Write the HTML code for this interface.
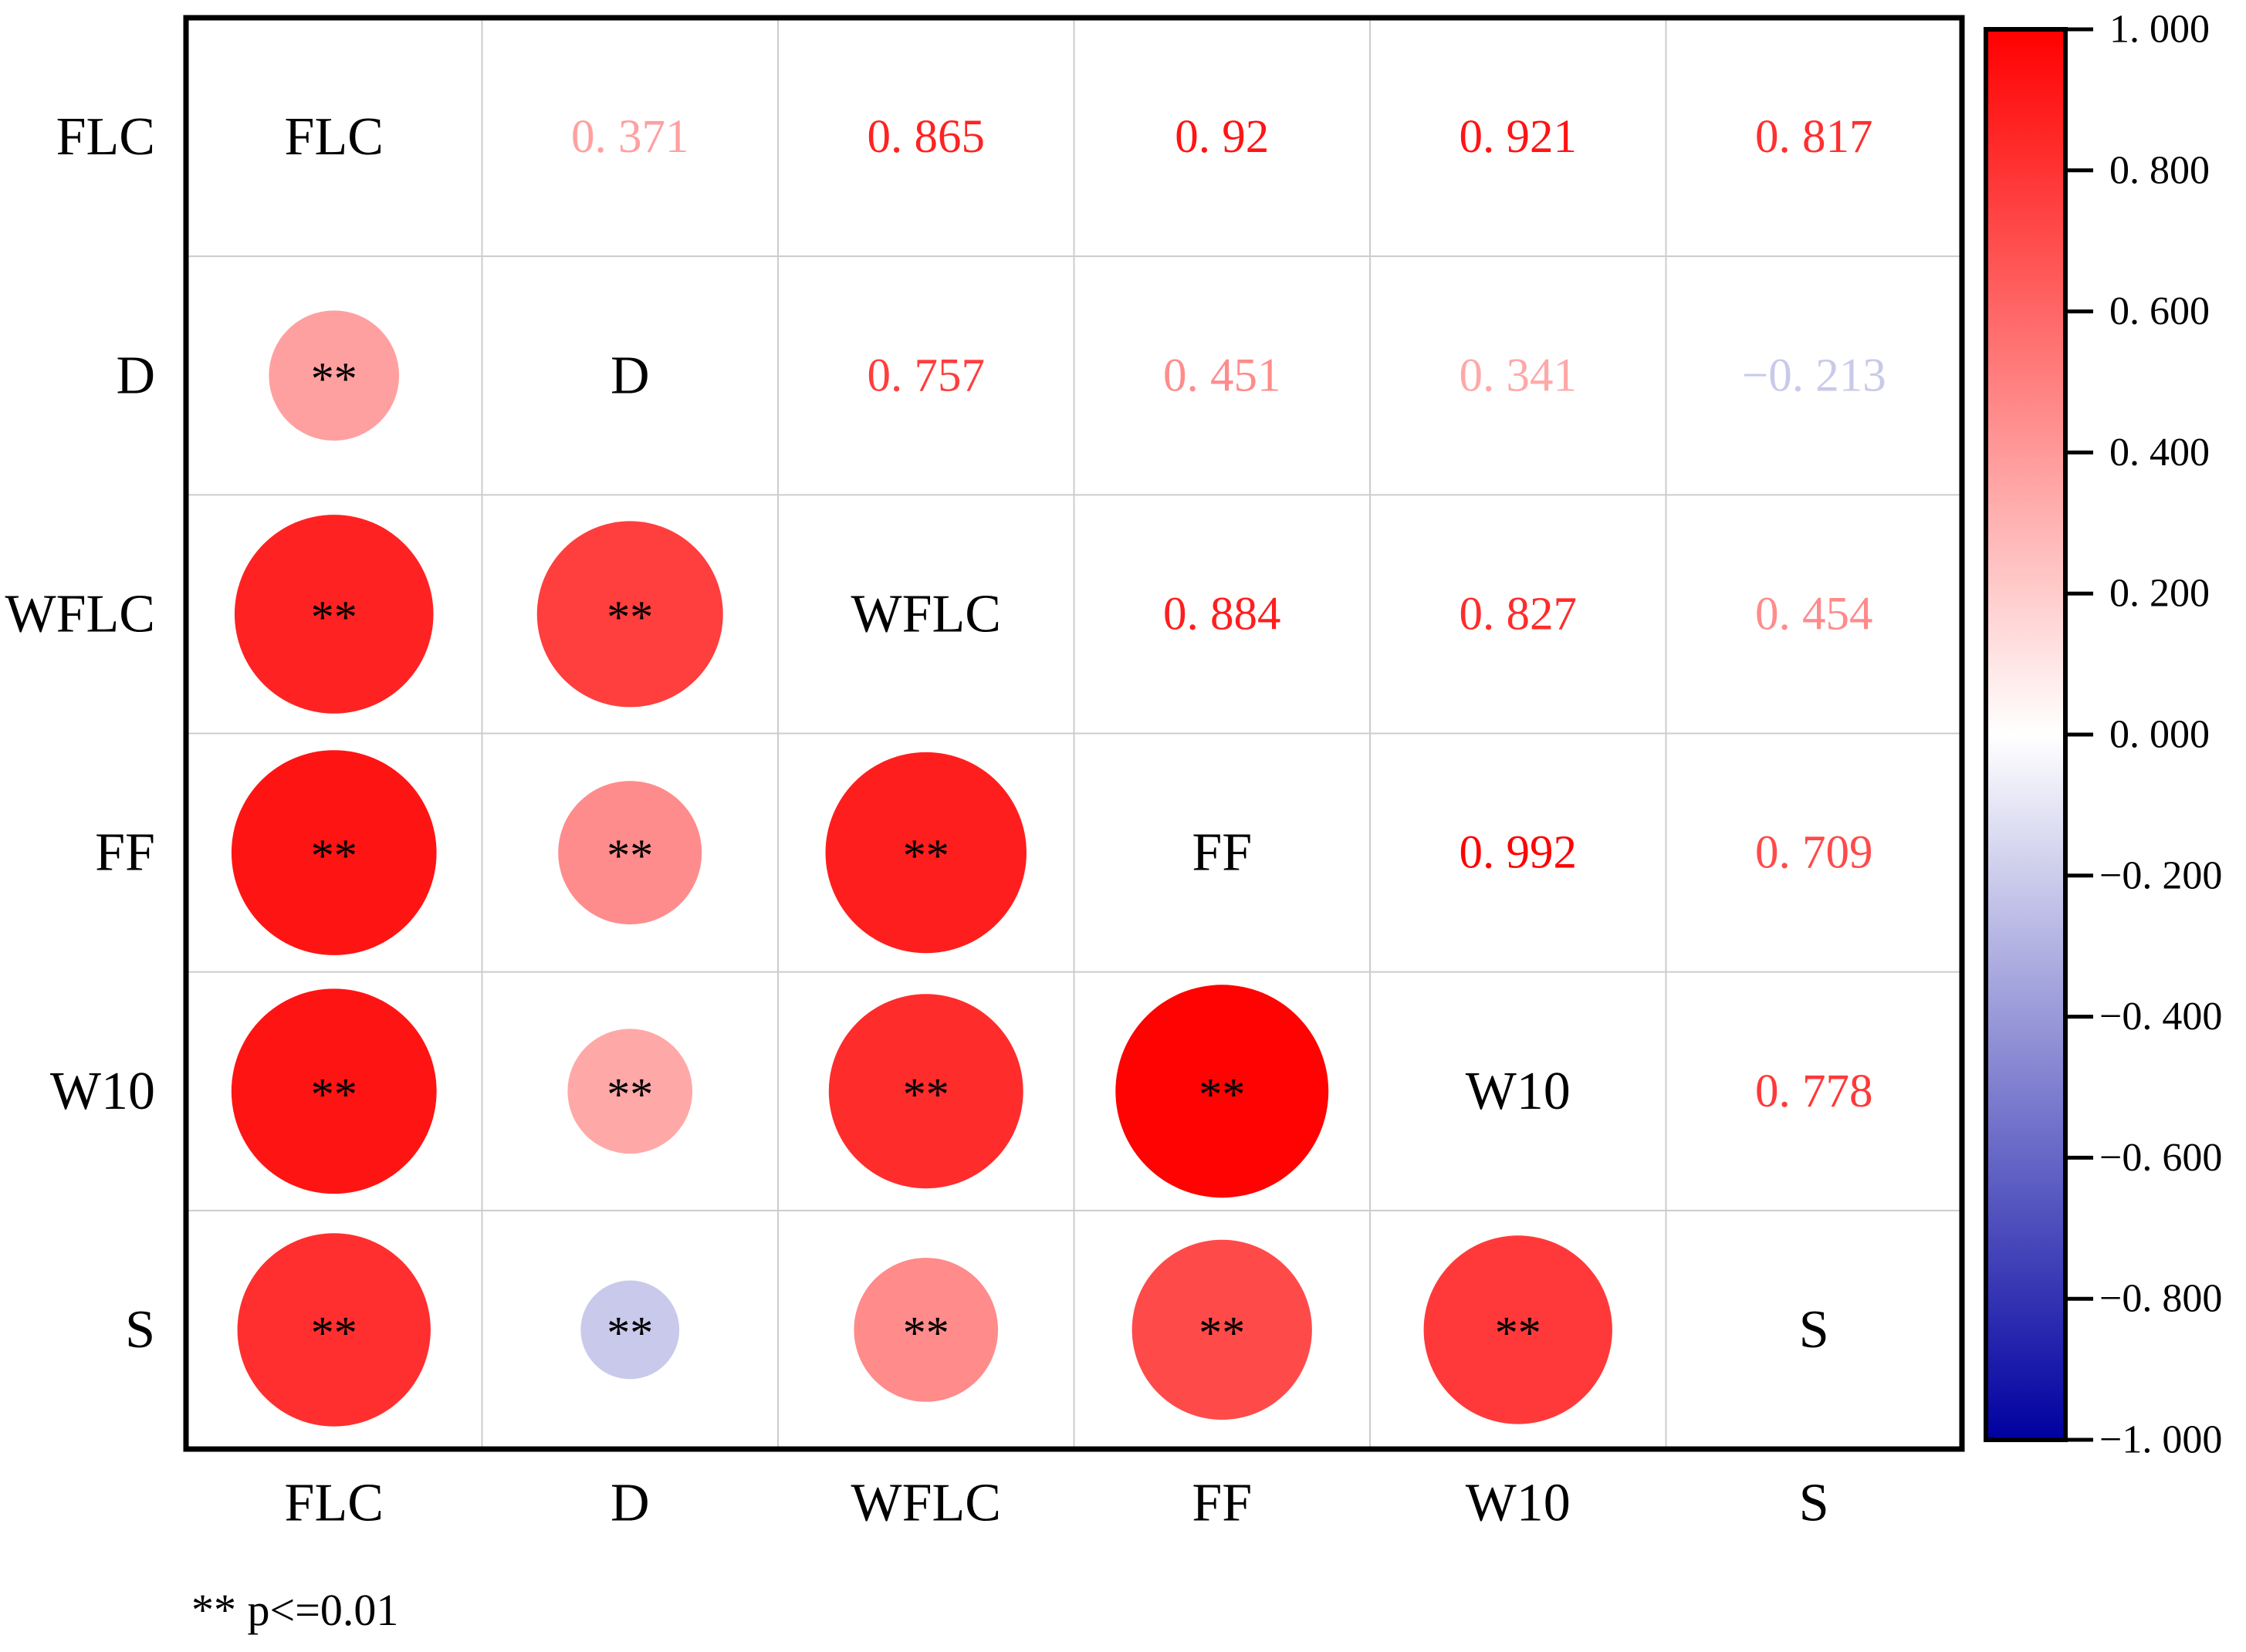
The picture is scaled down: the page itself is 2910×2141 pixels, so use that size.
<!DOCTYPE html>
<html><head><meta charset="utf-8"><style>
html,body{margin:0;padding:0;background:#fff}
svg{display:block}
text{font-family:"Liberation Serif","Noto Serif CJK SC",serif}
</style></head><body>
<svg id="chart" width="2910" height="2141" viewBox="0 0 2910 2141" xmlns="http://www.w3.org/2000/svg">
<defs>
<linearGradient id="cbgrad" x1="0" y1="0" x2="0" y2="1">
<stop offset="0" stop-color="#ff0000"/><stop offset="0.5" stop-color="#ffffff"/><stop offset="1" stop-color="#0000a0"/>
</linearGradient>
</defs>
<g id="grid"></g>
<g id="marks"></g>
<g id="axes"></g>
<rect x="241" y="23" width="2301" height="1855" fill="none" stroke="#000" stroke-width="7"/>
<rect x="2573" y="38" width="103" height="1828" fill="url(#cbgrad)" stroke="#000" stroke-width="6"/>
<g id="cbticks"></g>
<text x="248" y="2106" font-size="58">** p&lt;=0.01</text>
</svg>
<script>
const labels = ["FLC","D","WFLC","FF","W10","S"];
const corr = [
 [1, 0.371, 0.865, 0.92, 0.921, 0.817],
 [0.371, 1, 0.757, 0.451, 0.341, -0.213],
 [0.865, 0.757, 1, 0.884, 0.827, 0.454],
 [0.92, 0.451, 0.884, 1, 0.992, 0.709],
 [0.921, 0.341, 0.827, 0.992, 1, 0.778],
 [0.817, -0.213, 0.454, 0.709, 0.778, 1]
];
const sig = [
 ["", "**","**","**","**","**"],
 ["**","", "**","**","**","**"],
 ["**","**","", "**","**","**"],
 ["**","**","**","", "**","**"],
 ["**","**","**","**","", "**"],
 ["**","**","**","**","**",""]
];
const cbTicks = [1, 0.8, 0.6, 0.4, 0.2, 0, -0.2, -0.4, -0.6, -0.8, -1];

const NS = "http://www.w3.org/2000/svg";
const X0 = 241, Y0 = 23, W = 2301, H = 1855;
const n = labels.length, cw = W / n, ch = H / n;
const cx = i => X0 + cw * (i + 0.5);
const cy = i => Y0 + ch * (i + 0.5);
const CB_TOP = 38, CB_BOT = 1866;
const cbY = v => CB_TOP + (1 - v) / 2 * (CB_BOT - CB_TOP);
const radius = v => 138.5 * Math.sqrt(Math.abs(v));
function color(v) {
  if (v >= 0) { const g = Math.round(255 * (1 - v)); return `rgb(255,${g},${g})`; }
  const a = -v; const c = Math.round(255 * (1 - a)); const b = Math.round(255 - a * 95);
  return `rgb(${c},${c},${b})`;
}
function mk(tag, attrs, parent, txt) {
  const el = document.createElementNS(NS, tag);
  for (const k in attrs) el.setAttribute(k, attrs[k]);
  if (txt !== undefined) el.textContent = txt;
  parent.appendChild(el); return el;
}
function fmt(v) {
  const s = String(Math.abs(v)).replace(".", ". ");
  return (v < 0 ? "\u2212" : "") + s;
}
const grid = document.getElementById("grid");
for (let i = 1; i < n; i++) {
  const l1 = mk("line", {x1: X0 + cw * i, y1: Y0, x2: X0 + cw * i, y2: Y0 + H, stroke: "#cccccc", "stroke-width": 2}, grid);
  
  
  const l2 = mk("line", {x1: X0, y1: Y0 + ch * i, x2: X0 + W, y2: Y0 + ch * i, stroke: "#cccccc", "stroke-width": 2}, grid);
  
  
}
const marks = document.getElementById("marks");
for (let r = 0; r < n; r++) {
  for (let c = 0; c < n; c++) {
    const v = corr[r][c];
    if (r === c) {
      const t = mk("text", {x: cx(c), y: cy(r), "font-size": 70, "text-anchor": "middle", "dominant-baseline": "central", fill: "#000"}, marks, labels[r]);
      
      
    } else if (c > r) {
      const t = mk("text", {x: cx(c), y: cy(r), "font-size": 61, "text-anchor": "middle", "dominant-baseline": "central", fill: color(v)}, marks, fmt(v));
      
      
    } else {
      const ci = mk("circle", {cx: cx(c), cy: cy(r), r: radius(v), fill: color(v)}, marks);
      
      
      const t = mk("text", {x: cx(c), y: cy(r) + 24, "font-size": 60, "text-anchor": "middle", fill: "#000"}, marks, sig[r][c]);
      
      
    }
  }
}
const axes = document.getElementById("axes");
for (let i = 0; i < n; i++) {
  const yl = mk("text", {x: 201, y: cy(i), "font-size": 70, "text-anchor": "end", "dominant-baseline": "central"}, axes, labels[i]);
  
  
  const xl = mk("text", {x: cx(i), y: 1948, "font-size": 70, "text-anchor": "middle", "dominant-baseline": "central"}, axes, labels[i]);
  
  
}
const cbt = document.getElementById("cbticks");
cbTicks.forEach(v => {
  const y = cbY(v);
  const l = mk("line", {x1: 2676, y1: y, x2: 2712, y2: y, stroke: "#000", "stroke-width": 5}, cbt);
  
  
  const s = (v < 0 ? "\u2212" : "") + Math.abs(v).toFixed(3).replace(".", ". ");
  const t = mk("text", {x: v < 0 ? 2720 : 2733, y: y, "font-size": 52, "dominant-baseline": "central"}, cbt, s);
  
  
});
</script>
</body></html>
